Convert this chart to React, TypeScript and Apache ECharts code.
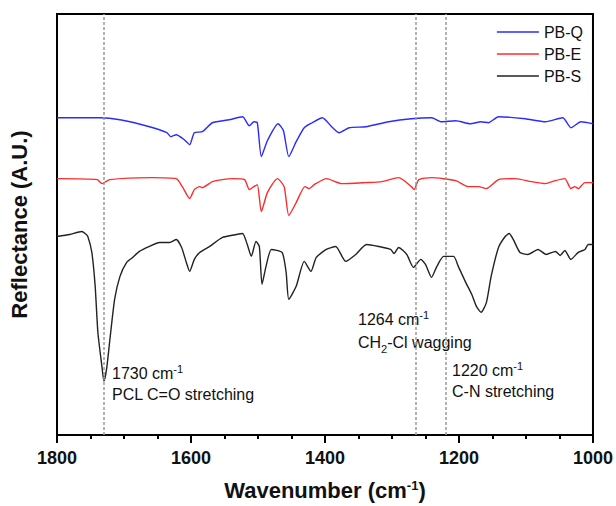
import React, { useEffect, useRef } from "react";
import * as echarts from "echarts";

// Wavenumbers (cm-1) and reflectance values (arbitrary units)
const wnQ = [1800, 1736, 1706, 1662, 1636, 1630, 1622, 1610, 1602, 1595, 1583, 1568, 1543, 1523, 1513, 1506, 1501, 1495, 1486, 1470, 1462, 1454, 1443, 1431, 1419, 1404, 1390, 1379, 1364, 1339, 1305, 1271, 1241, 1226, 1205, 1183, 1167, 1156, 1141, 1101, 1071, 1045, 1033, 1018, 1000];
const valQ = [318, 318, 316, 309, 303, 299, 301, 296, 291, 303, 304, 313, 316, 319, 310, 314, 313, 279, 295, 312, 305, 279, 294, 308, 313, 318, 309, 303, 308, 309, 314, 317, 318, 314, 315, 312, 314, 313, 319, 317, 314, 318, 308, 314, 312];

const wnE = [1800, 1740, 1733, 1721, 1660, 1622, 1613, 1602, 1595, 1587, 1583, 1568, 1538, 1520, 1513, 1506, 1501, 1495, 1486, 1471, 1461, 1454, 1443, 1430, 1424, 1416, 1398, 1375, 1340, 1315, 1290, 1271, 1267, 1260, 1241, 1205, 1186, 1171, 1159, 1141, 1116, 1092, 1071, 1056, 1042, 1033, 1027, 1022, 1012, 1000];
const valE = [257, 256, 252, 256, 258, 257, 249, 237, 246, 249, 248, 254, 257, 256, 246, 249, 251, 224, 243, 257, 249, 220, 233, 249, 247, 251, 257, 252, 253, 254, 258, 249, 246, 256, 258, 255, 249, 249, 247, 256, 257, 254, 252, 255, 257, 247, 249, 247, 253, 253];

const wnS = [1800, 1781, 1763, 1758, 1754, 1748, 1743, 1739, 1733, 1730, 1726, 1721, 1714, 1706, 1696, 1687, 1677, 1662, 1647, 1632, 1622, 1614, 1607, 1602, 1595, 1587, 1572, 1553, 1532, 1523, 1516, 1510, 1503, 1498, 1494, 1488, 1480, 1464, 1458, 1454, 1443, 1431, 1421, 1413, 1398, 1384, 1369, 1354, 1338, 1320, 1302, 1297, 1290, 1278, 1268, 1257, 1250, 1241, 1233, 1223, 1208, 1201, 1190, 1181, 1174, 1167, 1159, 1152, 1141, 1131, 1125, 1119, 1109, 1097, 1082, 1070, 1056, 1049, 1042, 1033, 1022, 1012, 1007, 1000];
const valS = [199, 201, 204, 202, 199, 183, 149, 103, 69, 54, 66, 96, 136, 159, 173, 178, 184, 189, 193, 193, 196, 188, 173, 164, 176, 183, 189, 198, 201, 202, 191, 179, 194, 189, 151, 169, 186, 183, 163, 136, 149, 174, 164, 178, 186, 189, 174, 181, 191, 189, 186, 182, 188, 181, 168, 176, 171, 158, 169, 179, 179, 169, 153, 141, 129, 123, 133, 159, 188, 199, 202, 196, 183, 181, 186, 181, 184, 180, 185, 176, 183, 186, 191, 191];

const seriesNames = ["PB-Q", "PB-E", "PB-S"];
const seriesColors = ["#2b2bff", "#ff2b2b", "#222222"];
const markedWavenumbers = [1730, 1264, 1220];
const xTickLabels = [1800, 1600, 1400, 1200, 1000];

const zip = (xs: number[], ys: number[]) => xs.map((x, i) => [x, ys[i]]);

const FONT = "Liberation Sans, Arial, sans-serif";

export default function App() {
  const ref = useRef<HTMLDivElement>(null);
  useEffect(() => {
    if (!ref.current) return;
    document.body.style.margin = "0";
    const chart = echarts.init(ref.current, undefined, { renderer: "svg" });
    const datasets = [zip(wnQ, valQ), zip(wnE, valE), zip(wnS, valS)];
    const annoRich = {
      sup: { fontSize: 11, verticalAlign: "top", lineHeight: 14, fontFamily: FONT, fill: "#111" },
      sub: { fontSize: 11, verticalAlign: "bottom", lineHeight: 24, fontFamily: FONT, fill: "#111" },
    };
    const annoStyle = (text: string) => ({
      text,
      fontSize: 16,
      fontFamily: FONT,
      fill: "#111",
      lineHeight: 21,
      rich: annoRich,
    });
    chart.setOption({
      animation: false,
      textStyle: { fontFamily: FONT },
      grid: { left: 57, right: 21, top: 14, bottom: 70, show: true, borderColor: "#000", borderWidth: 2, containLabel: false },
      legend: {
        data: seriesNames,
        orient: "vertical",
        right: 28,
        top: 18,
        icon: "rect",
        itemWidth: 42,
        itemHeight: 1.5,
        itemGap: 4,
        textStyle: { fontSize: 16, color: "#111", fontFamily: FONT, lineHeight: 18 },
      },
      xAxis: {
        type: "value",
        min: 1000,
        max: 1800,
        interval: 200,
        inverse: true,
        name: "Wavenumber (cm{sup|-1})",
        nameLocation: "middle",
        nameGap: 44,
        nameTextStyle: {
          fontSize: 22,
          fontWeight: "bold",
          color: "#111",
          fontFamily: FONT,
          rich: { sup: { fontSize: 13, fontWeight: "bold", verticalAlign: "top", lineHeight: 16, color: "#111", fontFamily: FONT } },
        },
        axisLine: { show: true, lineStyle: { color: "#000", width: 2 } },
        axisTick: { show: true, length: 8, lineStyle: { color: "#000", width: 2 } },
        minorTick: { show: true, splitNumber: 4, length: 4, lineStyle: { color: "#000", width: 2 } },
        axisLabel: {
          fontSize: 18,
          fontWeight: "bold",
          color: "#111",
          margin: 14,
          formatter: (v: number) => (xTickLabels.includes(v) ? String(v) : ""),
        },
        splitLine: { show: false },
      },
      yAxis: {
        type: "value",
        min: 0,
        max: 422,
        name: "Reflectance (A.U.)",
        nameLocation: "middle",
        nameGap: 27,
        nameTextStyle: { fontSize: 22, fontWeight: "bold", color: "#111", fontFamily: FONT },
        axisLine: { show: true, lineStyle: { color: "#000", width: 2 } },
        axisTick: { show: false },
        axisLabel: { show: false },
        splitLine: { show: false },
      },
      series: [
        {
          name: "marks",
          type: "line",
          data: [],
          silent: true,
          z: 1,
          markLine: {
            silent: true,
            symbol: "none",
            label: { show: false },
            lineStyle: { color: "#999", type: [3, 2], width: 1.5 },
            data: markedWavenumbers.map((w) => ({ xAxis: w })),
          },
        },
        ...seriesNames.map((name, i) => ({
          name,
          type: "line",
          data: datasets[i],
          showSymbol: false,
          symbol: "none",
          smooth: 0.2,
          z: 3,
          lineStyle: { color: seriesColors[i], width: 1.4 },
          itemStyle: { color: seriesColors[i] },
        })),
      ],
      graphic: [
        { type: "text", left: 112, top: 363, style: annoStyle("1730 cm{sup|-1}\nPCL C=O stretching") },
        { type: "text", left: 358, top: 309, style: annoStyle("1264 cm{sup|-1}\nCH{sub|2}-Cl wagging") },
        { type: "text", left: 452, top: 360, style: annoStyle("1220 cm{sup|-1}\nC-N stretching") },
      ],
    });
    return () => chart.dispose();
  }, []);
  return <div ref={ref} style={{ width: 616, height: 506 }} />;
}
